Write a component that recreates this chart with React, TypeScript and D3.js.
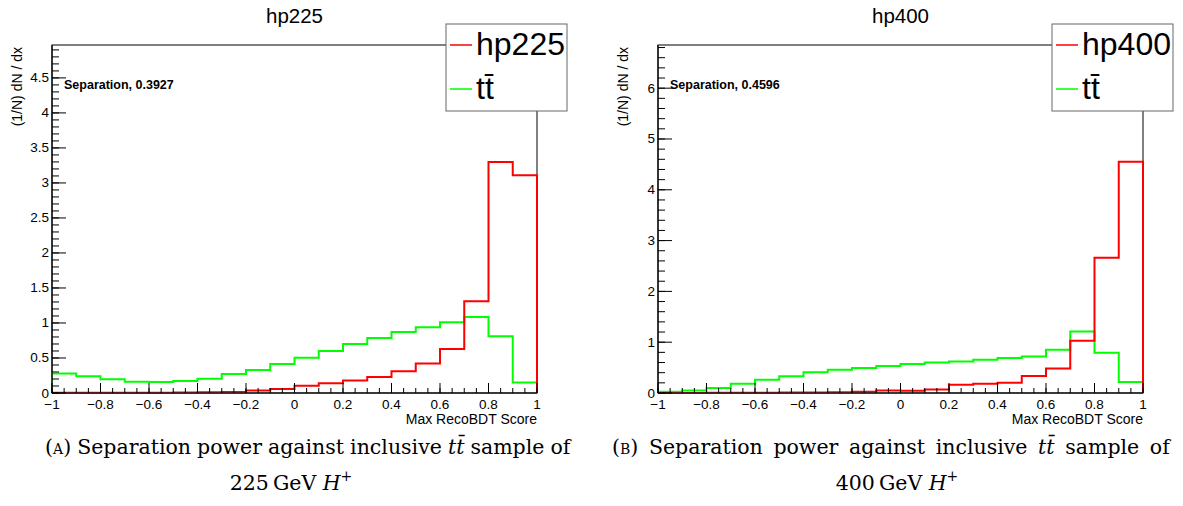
import React from "react";
import * as d3 from "d3";

// ---- data ----
const binEdges = [-1, -0.9, -0.8, -0.7, -0.6, -0.5, -0.4, -0.3, -0.2, -0.1, 0, 0.1, 0.2, 0.3, 0.4, 0.5, 0.6, 0.7, 0.8, 0.9, 1];

const hp225 = [0.002, 0.002, 0.003, 0.004, 0.005, 0.008, 0.012, 0.016, 0.037, 0.057, 0.104, 0.14, 0.18, 0.23, 0.31, 0.42, 0.63, 1.31, 3.30, 3.11];
const ttbar225 = [0.28, 0.24, 0.195, 0.16, 0.157, 0.17, 0.205, 0.27, 0.33, 0.414, 0.504, 0.60, 0.70, 0.785, 0.87, 0.94, 1.01, 1.085, 0.81, 0.15];

const hp400 = [0.001, 0.002, 0.003, 0.005, 0.006, 0.008, 0.01, 0.015, 0.026, 0.05, 0.045, 0.07, 0.162, 0.18, 0.20, 0.335, 0.48, 1.03, 2.66, 4.55];
const ttbar400 = [0.025, 0.05, 0.10, 0.18, 0.26, 0.33, 0.41, 0.46, 0.49, 0.53, 0.57, 0.60, 0.62, 0.655, 0.69, 0.72, 0.85, 1.21, 0.79, 0.215];

const xTicks = [-1, -0.8, -0.6, -0.4, -0.2, 0, 0.2, 0.4, 0.6, 0.8, 1];
const yTicks225 = [0, 0.5, 1, 1.5, 2, 2.5, 3, 3.5, 4, 4.5];
const yTicks400 = [0, 1, 2, 3, 4, 5, 6];

const titles = ["hp225", "hp400"];
const separations = ["Separation, 0.3927", "Separation, 0.4596"];
const xTitle = "Max RecoBDT Score";
const yTitle = "(1/N) dN / dx";
const ttLabel = "t\u0074\u0304";

const SANS = "'Liberation Sans', Arial, Helvetica, sans-serif";
const SERIF = "'DejaVu Serif', 'Liberation Serif', serif";

const fmt = (v: number) => (v < 0 ? "\u2212" + String(-v) : String(v));

function stepPath(values: number[], x: d3.ScaleLinear<number, number>, y: d3.ScaleLinear<number, number>) {
  const pts: [number, number][] = [[binEdges[0], 0]];
  values.forEach((v, i) => {
    pts.push([binEdges[i], v]);
    pts.push([binEdges[i + 1], v]);
  });
  pts.push([binEdges[binEdges.length - 1], 0]);
  return d3.line<[number, number]>().x((d) => x(d[0])).y((d) => y(d[1]))(pts) || "";
}

type PlotProps = {
  left: number;
  right: number;
  ymax: number;
  yTicks: number[];
  yMinorCount: number;
  sig: number[];
  bkg: number[];
  title: string;
  sep: string;
  legendLeft: number;
  legendRight: number;
  yTitleX: number;
};

function Plot(p: PlotProps) {
  const top = 45;
  const bottom = 393;
  const x = d3.scaleLinear().domain([-1, 1]).range([p.left, p.right]);
  const y = d3.scaleLinear().domain([0, p.ymax]).range([bottom, top]);
  const xMinor = x.ticks(40);
  const yMinor = y.ticks(p.yMinorCount);
  const cx = (p.left + p.right) / 2;
  return (
    <g>
      <text x={cx} y={23} textAnchor="middle" fontFamily={SANS} fontSize={20.5} fill="#000">
        {p.title}
      </text>
      {/* frame */}
      <rect x={p.left} y={top} width={p.right - p.left} height={bottom - top} fill="none" stroke="#000" strokeWidth={1} />
      {/* histograms */}
      <path d={stepPath(p.bkg, x, y)} fill="none" stroke="#00ff00" strokeWidth={2} />
      <path d={stepPath(p.sig, x, y)} fill="none" stroke="#ff0000" strokeWidth={2} />
      {/* axes lines */}
      <line x1={p.left} x2={p.left} y1={top} y2={bottom} stroke="#222" strokeWidth={1.6} />
      <line x1={p.left} x2={p.right} y1={bottom} y2={bottom} stroke="#222" strokeWidth={1.6} />
      {/* x ticks */}
      {xMinor.map((t, i) => (
        <line key={"xm" + i} x1={x(t)} x2={x(t)} y1={bottom} y2={bottom - 5} stroke="#000" strokeWidth={1} />
      ))}
      {xTicks.map((t, i) => (
        <g key={"xt" + i}>
          <line x1={x(t)} x2={x(t)} y1={bottom} y2={bottom - 10} stroke="#000" strokeWidth={1} />
          <text x={x(t)} y={409} textAnchor="middle" fontFamily={SANS} fontSize={13.5} fill="#000">
            {fmt(t)}
          </text>
        </g>
      ))}
      {/* y ticks */}
      {yMinor.map((t, i) => (
        <line key={"ym" + i} x1={p.left} x2={p.left + 7} y1={y(t)} y2={y(t)} stroke="#000" strokeWidth={1} />
      ))}
      {p.yTicks.map((t, i) => (
        <g key={"yt" + i}>
          <line x1={p.left} x2={p.left + 14} y1={y(t)} y2={y(t)} stroke="#000" strokeWidth={1} />
          <text x={p.left - 3} y={y(t) + 4.5} textAnchor="end" fontFamily={SANS} fontSize={13.5} fill="#000">
            {fmt(t)}
          </text>
        </g>
      ))}
      <text x={p.right} y={424} textAnchor="end" fontFamily={SANS} fontSize={14} fill="#000">
        {xTitle}
      </text>
      <text
        transform={`translate(${p.yTitleX},${top + 2}) rotate(-90)`}
        textAnchor="end"
        fontFamily={SANS}
        fontSize={14}
        fill="#000"
      >
        {yTitle}
      </text>
      <text x={p.left + 12} y={89} fontFamily={SANS} fontSize={12.5} fontWeight="bold" fill="#000">
        {p.sep}
      </text>
      {/* legend */}
      <rect x={p.legendLeft} y={24} width={p.legendRight - p.legendLeft} height={87} fill="#fff" stroke="#666" strokeWidth={1} />
      <line x1={p.legendLeft + 4} x2={p.legendLeft + 26} y1={45} y2={45} stroke="#ff0000" strokeWidth={1.5} />
      <text x={p.legendLeft + 30} y={55} fontFamily={SANS} fontSize={32} fill="#000">
        {p.title}
      </text>
      <line x1={p.legendLeft + 4} x2={p.legendLeft + 26} y1={89} y2={89} stroke="#00ff00" strokeWidth={1.5} />
      <text x={p.legendLeft + 30} y={99} fontFamily={SANS} fontSize={32} fill="#000">
        {ttLabel}
      </text>
    </g>
  );
}

function Caption({ x1, label, cx2, mass, ws }: { x1: number; label: string; cx2: number; mass: string; ws: number }) {
  return (
    <g fontFamily={SERIF} fontSize={20.5} fill="#000">
      <text x={x1} y={454} style={{ wordSpacing: ws + "px" }}>
        (<tspan style={{ fontVariant: "small-caps" }}>{label}</tspan>) Separation power against inclusive{" "}
        <tspan fontStyle="italic">{"t\u0074\u0304"}</tspan> sample of
      </text>
      <text x={cx2} y={490} textAnchor="middle">
        {mass + "\u2009GeV "}
        <tspan fontStyle="italic">H</tspan>
        <tspan fontSize={14} dy={-9}>+</tspan>
      </text>
    </g>
  );
}

export default function App() {
  return (
    <svg
      width={1183}
      height={506}
      viewBox="0 0 1183 506"
      style={{ position: "absolute", left: 0, top: 0, background: "#fff" }}
    >
      <rect x={0} y={0} width={1183} height={506} fill="#fff" />
      <Plot
        left={52}
        right={537}
        ymax={4.97}
        yTicks={yTicks225}
        yMinorCount={50}
        sig={hp225}
        bkg={ttbar225}
        title={titles[0]}
        sep={separations[0]}
        legendLeft={446}
        legendRight={567}
        yTitleX={22}
      />
      <Plot
        left={658}
        right={1143}
        ymax={6.85}
        yTicks={yTicks400}
        yMinorCount={35}
        sig={hp400}
        bkg={ttbar400}
        title={titles[1]}
        sep={separations[1]}
        legendLeft={1052}
        legendRight={1173}
        yTitleX={628}
      />
      <Caption x1={45} label="a" cx2={291} mass="225" ws={-0.5} />
      <Caption x1={612} label="b" cx2={897} mass="400" ws={4.1} />
    </svg>
  );
}
